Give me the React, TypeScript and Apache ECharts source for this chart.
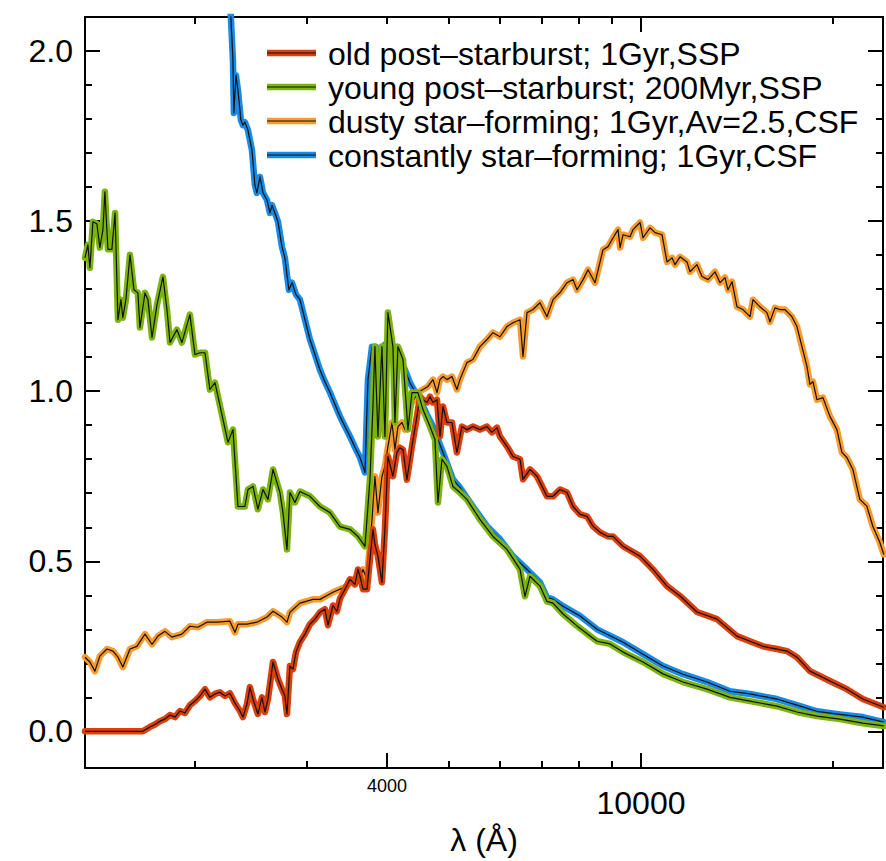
import { useEffect, useRef } from "react";
import * as echarts from "echarts";

const FONT = '"Liberation Sans", Arial, Helvetica, sans-serif';

// Model spectra: [wavelength (Å), normalised flux]
const oldPostStarburst: [number, number][] = [
  [1346, 0.0], [1473, 0.0], [1658, 0.0], [1701, 0.013], [1732, 0.02], [1764, 0.03], [1796, 0.036],
  [1829, 0.048], [1862, 0.042], [1896, 0.06], [1930, 0.054], [1965, 0.077], [2001, 0.089], [2038, 0.104],
  [2075, 0.124], [2112, 0.1], [2151, 0.11], [2190, 0.115], [2230, 0.104], [2270, 0.112], [2312, 0.083],
  [2354, 0.06], [2379, 0.042], [2414, 0.08], [2440, 0.13], [2467, 0.095], [2511, 0.051], [2548, 0.1],
  [2576, 0.057], [2604, 0.095], [2652, 0.204], [2700, 0.154], [2739, 0.124], [2768, 0.104], [2789, 0.051],
  [2819, 0.192], [2850, 0.183], [2881, 0.233], [2923, 0.263], [2976, 0.286], [3030, 0.315], [3085, 0.33],
  [3141, 0.35], [3198, 0.359], [3233, 0.312], [3292, 0.37], [3340, 0.353], [3376, 0.39], [3438, 0.418],
  [3500, 0.447], [3564, 0.432], [3603, 0.476], [3629, 0.456], [3669, 0.418], [3722, 0.418], [3762, 0.506],
  [3803, 0.594], [3830, 0.55], [3872, 0.515], [3928, 0.438], [3971, 0.594], [4014, 0.808], [4087, 0.75],
  [4147, 0.82], [4192, 0.834], [4238, 0.828], [4299, 0.74], [4377, 0.837], [4457, 0.926], [4506, 0.984],
  [4555, 0.975], [4621, 0.967], [4672, 0.984], [4722, 0.967], [4791, 0.975], [4843, 0.867], [4896, 0.955],
  [4966, 0.908], [5057, 0.908], [5148, 0.82], [5242, 0.896], [5337, 0.887], [5454, 0.896], [5594, 0.887],
  [5738, 0.896], [5842, 0.879], [5949, 0.893], [6013, 0.867], [6167, 0.838], [6302, 0.808], [6464, 0.8],
  [6534, 0.741], [6701, 0.77], [6872, 0.75], [7124, 0.691], [7281, 0.691], [7468, 0.711], [7658, 0.702],
  [7827, 0.661], [8027, 0.638], [8232, 0.632], [8412, 0.603], [8627, 0.585], [8880, 0.573], [9042, 0.573],
  [9374, 0.544], [9966, 0.515], [10442, 0.476], [10984, 0.427], [11512, 0.398], [12239, 0.351],
  [13154, 0.33], [14138, 0.28], [14816, 0.265], [15529, 0.25], [16330, 0.242], [16933, 0.236],
  [17551, 0.218], [18394, 0.177], [19768, 0.148], [21014, 0.124], [22260, 0.095], [24008, 0.071],
];

const youngPostStarburst: [number, number][] = [
  [1346, 1.392], [1360, 1.43], [1370, 1.363], [1385, 1.498], [1405, 1.492], [1420, 1.422], [1436, 1.475],
  [1446, 1.586], [1462, 1.417], [1483, 1.417], [1500, 1.524], [1516, 1.21], [1532, 1.269], [1543, 1.216],
  [1560, 1.269], [1583, 1.401], [1606, 1.298], [1629, 1.289], [1641, 1.187], [1671, 1.289], [1689, 1.269],
  [1714, 1.158], [1745, 1.254], [1783, 1.336], [1809, 1.24], [1829, 1.143], [1875, 1.181], [1909, 1.143],
  [1965, 1.225], [2001, 1.108], [2038, 1.113], [2075, 1.113], [2112, 1.005], [2151, 1.025], [2214, 0.917],
  [2254, 0.85], [2295, 0.887], [2337, 0.661], [2396, 0.661], [2423, 0.711], [2467, 0.72], [2511, 0.653],
  [2558, 0.711], [2604, 0.682], [2652, 0.77], [2719, 0.702], [2749, 0.643], [2789, 0.535], [2819, 0.702],
  [2870, 0.673], [2923, 0.705], [3030, 0.691], [3141, 0.661], [3257, 0.643], [3376, 0.602], [3500, 0.594],
  [3603, 0.573], [3695, 0.544], [3762, 0.741], [3803, 0.955], [3830, 1.131], [3872, 0.867], [3928, 1.131],
  [3971, 0.867], [4014, 1.231], [4087, 1.131], [4117, 0.908], [4162, 1.131], [4238, 1.093], [4315, 0.887],
  [4377, 0.996], [4473, 0.996], [4555, 0.946], [4672, 0.896], [4756, 0.858], [4808, 0.673], [4878, 0.8],
  [4966, 0.779], [5075, 0.72], [5204, 0.702], [5337, 0.682], [5594, 0.623], [5863, 0.573], [6167, 0.535],
  [6464, 0.476], [6581, 0.397], [6701, 0.456], [6947, 0.427], [7124, 0.382], [7281, 0.377], [7549, 0.345],
  [7940, 0.31], [8534, 0.265], [8944, 0.257], [9374, 0.233], [10074, 0.204], [10827, 0.169], [11636, 0.145],
  [12689, 0.124], [13786, 0.1], [14816, 0.089], [16330, 0.074], [17551, 0.057], [18864, 0.045],
  [20492, 0.036], [22260, 0.024], [24008, 0.016],
];

const dustyStarForming: [number, number][] = [
  [1346, 0.218], [1370, 0.204], [1395, 0.177], [1420, 0.221], [1457, 0.242], [1489, 0.236], [1516, 0.218],
  [1543, 0.189], [1583, 0.242], [1623, 0.25], [1671, 0.286], [1714, 0.256], [1751, 0.28], [1796, 0.294],
  [1842, 0.277], [1909, 0.286], [1965, 0.309], [2023, 0.306], [2090, 0.321], [2166, 0.321], [2270, 0.324],
  [2312, 0.291], [2337, 0.315], [2414, 0.315], [2502, 0.321], [2595, 0.336], [2652, 0.353], [2739, 0.336],
  [2789, 0.321], [2819, 0.35], [2923, 0.377], [3063, 0.388], [3141, 0.388], [3292, 0.409], [3462, 0.427],
  [3538, 0.447], [3629, 0.456], [3669, 0.476], [3722, 0.447], [3790, 0.623], [3830, 0.749], [3872, 0.643],
  [3928, 0.749], [3971, 0.779], [4014, 0.837], [4073, 0.908], [4117, 0.829], [4162, 0.896], [4222, 0.908],
  [4268, 0.887], [4346, 0.955], [4473, 0.996], [4555, 1.005], [4638, 1.014], [4722, 1.034], [4791, 0.996],
  [4843, 1.034], [4896, 1.043], [4966, 1.034], [5057, 1.043], [5148, 1.005], [5204, 1.034], [5337, 1.084],
  [5454, 1.093], [5594, 1.131], [5738, 1.152], [5863, 1.172], [6013, 1.16], [6167, 1.19], [6302, 1.201],
  [6464, 1.21], [6534, 1.102], [6629, 1.231], [6774, 1.24], [6947, 1.26], [7124, 1.219], [7281, 1.269],
  [7468, 1.29], [7658, 1.319], [7827, 1.328], [7940, 1.298], [8114, 1.328], [8262, 1.357], [8473, 1.319],
  [8721, 1.416], [8880, 1.425], [9042, 1.451], [9206, 1.475], [9273, 1.422], [9374, 1.46], [9613, 1.454],
  [9718, 1.475], [9966, 1.496], [10074, 1.451], [10331, 1.48], [10520, 1.466], [10788, 1.46], [10984, 1.38],
  [11184, 1.392], [11306, 1.372], [11512, 1.395], [11806, 1.38], [11934, 1.351], [12239, 1.372],
  [12462, 1.337], [12735, 1.328], [13060, 1.351], [13298, 1.319], [13540, 1.334], [13687, 1.298],
  [13886, 1.322], [14138, 1.248], [14447, 1.24], [14816, 1.219], [14977, 1.269], [15360, 1.248],
  [15752, 1.231], [15923, 1.204], [16213, 1.245], [16507, 1.24], [16807, 1.24], [17237, 1.219],
  [17551, 1.19], [17871, 1.131], [18196, 1.073], [18394, 1.02], [18594, 1.028], [18864, 0.975],
  [19276, 0.981], [19768, 0.926], [20272, 0.887], [20640, 0.82], [21014, 0.805], [21473, 0.77],
  [22020, 0.682], [22582, 0.662], [23076, 0.603], [23664, 0.556], [24008, 0.52],
];

const constantStarForming: [number, number][] = [
  [2230, 2.35], [2278, 2.1], [2295, 1.974], [2303, 1.818], [2320, 1.929], [2337, 1.885], [2362, 1.797],
  [2379, 1.782], [2396, 1.791], [2423, 1.767], [2458, 1.709], [2484, 1.606], [2502, 1.583], [2530, 1.63],
  [2558, 1.583], [2595, 1.562], [2623, 1.524], [2642, 1.547], [2670, 1.524], [2700, 1.498], [2739, 1.425],
  [2768, 1.392], [2789, 1.342], [2809, 1.298], [2840, 1.319], [2881, 1.284], [2923, 1.269], [2976, 1.21],
  [3030, 1.152], [3085, 1.108], [3141, 1.063], [3198, 1.028], [3257, 0.996], [3316, 0.961], [3376, 0.926],
  [3438, 0.896], [3500, 0.867], [3564, 0.835], [3629, 0.805], [3682, 0.77], [3695, 0.761], [3735, 1.034],
  [3790, 1.131], [3844, 1.131], [3900, 1.108], [3971, 1.137], [4043, 1.122], [4117, 1.108], [4192, 1.093],
  [4268, 1.063], [4346, 1.025], [4425, 0.999], [4506, 0.975], [4621, 0.931], [4722, 0.896], [4896, 0.82],
  [5075, 0.741], [5204, 0.717], [5454, 0.661], [5738, 0.603], [6013, 0.565], [6302, 0.515], [6629, 0.476],
  [6947, 0.438], [7124, 0.394], [7281, 0.388], [7549, 0.368], [8027, 0.339], [8534, 0.3], [9374, 0.262],
  [10074, 0.227], [10827, 0.192], [11636, 0.168], [12689, 0.145], [13786, 0.118], [14816, 0.11],
  [16330, 0.095], [17551, 0.077], [18864, 0.059], [20492, 0.05], [22260, 0.042], [24008, 0.027],
];

const SERIES_NAMES = [
  "old post–starburst; 1Gyr,SSP",
  "young post–starburst; 200Myr,SSP",
  "dusty star–forming; 1Gyr,Av=2.5,CSF",
  "constantly star–forming; 1Gyr,CSF",
];
const SERIES_COLORS = ["#DB3F0C", "#7BB40F", "#F99A2C", "#1A8AE4"];
const SERIES_DATA = [oldPostStarburst, youngPostStarburst, dustyStarForming, constantStarForming];
// painting order: constant SF first, young post-starburst last (on top)
const DRAW_ORDER = [3, 2, 0, 1];

const X_LABELED_MAJOR = [10000];
const X_LABELED_MINOR = [4000];
const X_MAJOR_BOTTOM = [4000, 10000];
const X_MAJOR_TOP = [10000];
const X_MINOR_BOTTOM = [2000, 3000, 5000, 6000, 7000, 8000, 9000, 20000];
const X_MINOR_TOP = [2000, 3000, 4000, 5000, 6000, 7000, 8000, 9000, 20000];
const Y_MAJOR = [0, 0.5, 1.0, 1.5, 2.0];
const Y_MINOR = [0.1, 0.2, 0.3, 0.4, 0.6, 0.7, 0.8, 0.9, 1.1, 1.2, 1.3, 1.4, 1.6, 1.7, 1.8, 1.9];

const X_MIN = Math.log10(1346);
const X_MAX = Math.log10(23940);
const Y_MIN = -0.108;
const Y_MAX = 2.1;

const lg = (arr: number[]) => arr.map((v) => Math.log10(v));
const waveLabel = (v: number) => String(Math.round(Math.pow(10, v)));

const AXIS_STROKE = { color: "#000", width: 2 };

function xAxis(position: "top" | "bottom", line: boolean, ticks: number[], len: number, extra: any = {}) {
  return {
    type: "value",
    position,
    min: X_MIN,
    max: X_MAX,
    axisLine: { show: line, onZero: false, lineStyle: AXIS_STROKE },
    axisTick: { show: true, inside: true, length: len, customValues: lg(ticks), lineStyle: AXIS_STROKE },
    axisLabel: { show: false },
    splitLine: { show: false },
    ...extra,
  };
}

function yAxis(position: "left" | "right", line: boolean, ticks: number[], len: number, extra: any = {}) {
  return {
    type: "value",
    position,
    min: Y_MIN,
    max: Y_MAX,
    axisLine: { show: line, onZero: false, lineStyle: AXIS_STROKE },
    axisTick: { show: true, inside: true, length: len, customValues: ticks, lineStyle: AXIS_STROKE },
    axisLabel: { show: false },
    splitLine: { show: false },
    ...extra,
  };
}

export default function App() {
  const ref = useRef<HTMLDivElement>(null);

  useEffect(() => {
    document.body.style.margin = "0";
    if (!ref.current) return;
    const chart = echarts.init(ref.current, null, { renderer: "svg" });

    const series: any[] = [];
    DRAW_ORDER.forEach((i) => {
      const data = SERIES_DATA[i].map(([w, f]) => [Math.log10(w), f]);
      series.push({
        type: "line",
        name: SERIES_NAMES[i],
        data,
        xAxisIndex: 0,
        yAxisIndex: 0,
        symbol: "none",
        silent: true,
        clip: true,
        lineStyle: { color: SERIES_COLORS[i], width: 6.5, join: "round", cap: "round" },
        z: 2,
      });
      series.push({
        type: "line",
        data,
        xAxisIndex: 0,
        yAxisIndex: 0,
        symbol: "none",
        silent: true,
        clip: true,
        lineStyle: { color: "#111", width: 1.2, join: "round" },
        z: 2,
      });
    });

    const legendX0 = 267;
    const legendX1 = 316;
    const legendTextX = 328;
    const legendTop = 53;
    const legendStep = 34;
    const legend: any[] = [];
    SERIES_NAMES.forEach((name, i) => {
      const y = legendTop + i * legendStep;
      legend.push({
        type: "line",
        shape: { x1: legendX0, y1: y, x2: legendX1, y2: y },
        style: { stroke: SERIES_COLORS[i], lineWidth: 6.5 },
        z: 10,
      });
      legend.push({
        type: "line",
        shape: { x1: legendX0, y1: y, x2: legendX1, y2: y },
        style: { stroke: "#111", lineWidth: 1.2 },
        z: 11,
      });
      legend.push({
        type: "text",
        x: legendTextX,
        y: y + 1,
        style: {
          text: name,
          fill: "#000",
          font: `32px ${FONT}`,
          textAlign: "left",
          textVerticalAlign: "middle",
          verticalAlign: "middle",
        },
        z: 11,
      });
    });

    chart.setOption({
      animation: false,
      backgroundColor: "#fff",
      grid: { left: 85, right: 3, top: 17, bottom: 92, containLabel: false },
      xAxis: [
        xAxis("bottom", true, X_MAJOR_BOTTOM, 15, {
          axisLabel: {
            show: true,
            customValues: lg(X_LABELED_MAJOR),
            formatter: waveLabel,
            fontSize: 32,
            fontFamily: FONT,
            color: "#000",
            margin: 19,
          },
          name: "λ (Å)",
          nameLocation: "middle",
          nameGap: 54,
          nameTextStyle: { fontSize: 32, fontFamily: FONT, color: "#000" },
        }),
        xAxis("bottom", false, X_MINOR_BOTTOM, 7, {
          axisLabel: {
            show: true,
            customValues: lg(X_LABELED_MINOR),
            formatter: waveLabel,
            fontSize: 18,
            fontFamily: FONT,
            color: "#000",
            margin: 9,
          },
        }),
        xAxis("top", true, X_MAJOR_TOP, 15),
        xAxis("top", false, X_MINOR_TOP, 7),
      ],
      yAxis: [
        yAxis("left", true, Y_MAJOR, 15, {
          axisLabel: {
            show: true,
            customValues: Y_MAJOR,
            formatter: (v: number) => v.toFixed(1),
            fontSize: 32,
            fontFamily: FONT,
            color: "#000",
            margin: 12,
          },
        }),
        yAxis("left", false, Y_MINOR, 7),
        yAxis("right", true, Y_MAJOR, 15),
        yAxis("right", false, Y_MINOR, 7),
      ],
      series,
      graphic: legend,
    });

    return () => chart.dispose();
  }, []);

  return <div ref={ref} style={{ width: 886, height: 861 }} />;
}
